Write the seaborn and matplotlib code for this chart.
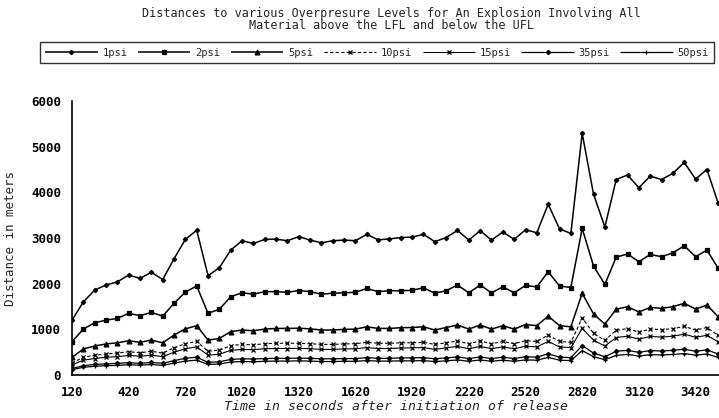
import seaborn as sns
import matplotlib
matplotlib.use('Agg')
import matplotlib.pyplot as plt

# time axis, one point every 60 s
times = list(range(120, 3541, 60))

psi_1 = [1200, 1600, 1860, 1970, 2040, 2190, 2115, 2250, 2090, 2545,
         2970, 3170, 2175, 2350, 2735, 2940, 2880, 2970, 2975, 2940,
         3030, 2955, 2895, 2940, 2955, 2940, 3080, 2960, 2980, 3010,
         3020, 3080, 2920, 3010, 3165, 2955, 3160, 2955, 3130, 2970,
         3180, 3115, 3740, 3200, 3100, 5290, 3960, 3240, 4280, 4380,
         4100, 4355, 4280, 4415, 4655, 4290, 4500, 3760]
psi_2 = [730, 1005, 1145, 1200, 1240, 1350, 1300, 1370, 1290, 1570,
         1815, 1950, 1350, 1440, 1715, 1800, 1770, 1825, 1825, 1810,
         1850, 1825, 1770, 1790, 1800, 1810, 1895, 1825, 1845, 1845,
         1855, 1910, 1790, 1845, 1970, 1800, 1970, 1800, 1930, 1800,
         1960, 1930, 2260, 1950, 1915, 3210, 2385, 1985, 2580, 2650,
         2480, 2640, 2590, 2675, 2830, 2590, 2735, 2335]
psi_5 = [385, 570, 635, 680, 705, 750, 715, 765, 705, 875,
         1010, 1080, 765, 800, 950, 985, 970, 1005, 1020, 1020,
         1025, 1010, 985, 985, 1000, 1005, 1055, 1020, 1020, 1035,
         1040, 1055, 985, 1040, 1095, 1005, 1095, 1005, 1080, 1005,
         1105, 1080, 1290, 1080, 1055, 1790, 1335, 1115, 1440, 1495,
         1380, 1480, 1460, 1495, 1570, 1445, 1530, 1275]
psi_10 = [260, 390, 430, 460, 480, 510, 485, 520, 480, 595,
          685, 735, 520, 545, 645, 670, 660, 685, 695, 695,
          695, 685, 670, 670, 680, 685, 715, 695, 695, 705,
          705, 715, 670, 705, 745, 685, 745, 685, 735, 685,
          750, 735, 875, 735, 715, 1250, 910, 760, 980, 1015,
          940, 1005, 995, 1015, 1065, 985, 1040, 865]
psi_15 = [220, 325, 360, 390, 400, 430, 410, 435, 400, 500,
          575, 615, 435, 455, 540, 560, 555, 575, 580, 580,
          585, 575, 560, 560, 570, 575, 600, 580, 580, 590,
          595, 600, 560, 595, 625, 575, 625, 575, 615, 575,
          630, 615, 735, 615, 600, 1020, 760, 635, 820, 850,
          785, 845, 830, 850, 895, 825, 870, 725]
psi_35 = [140, 205, 230, 245, 255, 270, 255, 275, 255, 315,
          365, 390, 275, 290, 340, 355, 350, 360, 365, 365,
          370, 365, 355, 355, 360, 360, 380, 365, 365, 375,
          375, 380, 355, 375, 395, 360, 395, 360, 390, 360,
          400, 390, 465, 390, 380, 645, 480, 400, 520, 540,
          495, 535, 525, 540, 565, 520, 550, 460]
psi_50 = [115, 170, 190, 205, 210, 225, 215, 230, 210, 260,
          305, 325, 230, 240, 285, 295, 290, 300, 305, 305,
          310, 305, 295, 295, 300, 300, 315, 305, 305, 310,
          310, 315, 295, 310, 330, 300, 330, 300, 325, 300,
          330, 325, 385, 325, 315, 535, 400, 335, 430, 450,
          415, 445, 440, 450, 470, 435, 460, 385]

labels = ['1psi', '2psi', '5psi', '10psi', '15psi', '35psi', '50psi']
series = [psi_1, psi_2, psi_5, psi_10, psi_15, psi_35, psi_50]
markers = ['D', 's', '^', 'x', 'x', 'D', '+']
msizes = [2.2, 3.5, 3.5, 3, 2.5, 2.2, 3.5]
lwidths = [1.1, 1.1, 1.1, 0.8, 0.8, 0.9, 0.9]
lstyles = [(0, ()), (0, ()), (0, ()), (0, (3, 2)), (0, ()), (0, ()), (0, ())]

sns.set_theme(style='white')
plt.rcParams['font.family'] = ['DejaVu Sans Mono']

fig = plt.figure(figsize=(7.19, 4.18), dpi=100)
ax = fig.add_axes([72 / 719, 1 - 375 / 418, 1 - 72 / 719, 274 / 418])

for lab, vals, m, ms, lw, ls in zip(labels, series, markers, msizes, lwidths, lstyles):
    sns.lineplot(x=times, y=vals, ax=ax, color='black', marker=m,
                 markersize=ms, markeredgewidth=0.9, markeredgecolor='black',
                 linewidth=lw, linestyle=ls, label=lab)

ax.set_xlim(120, 3544)
ax.set_ylim(0, 6000)
ax.set_xticks(list(range(120, 3421, 300)))
ax.set_yticks(list(range(0, 6001, 1000)))
ax.tick_params(axis='both', direction='in', length=3, width=1, color='black',
               labelsize=9, labelcolor='black', pad=8)
for t in ax.get_xticklabels() + ax.get_yticklabels():
    t.set_fontweight('bold')
sns.despine(ax=ax, top=True, right=True)
for s in ['left', 'bottom']:
    ax.spines[s].set_color('black')
    ax.spines[s].set_linewidth(1.2)

ax.set_xlabel('Time in seconds after initiation of release', fontsize=9.5,
              style='italic', labelpad=1)
ax.set_ylabel('Distance in meters', fontsize=9, labelpad=10)

handles, labs = ax.get_legend_handles_labels()
ax.get_legend().remove()
fig.legend(handles, labs, loc='center left', bbox_to_anchor=(35 / 719, 0.874), ncol=7,
           frameon=True, fancybox=False, edgecolor='black', fontsize=7.5,
           handlelength=5.0, columnspacing=1.0, handletextpad=0.5, borderpad=0.5)

fig.text(0.545, 0.968, 'Distances to various Overpresure Levels for An Explosion Involving All',
         ha='center', va='center', fontsize=8.5)
fig.text(0.545, 0.940, 'Material above the LFL and below the UFL',
         ha='center', va='center', fontsize=8.5)

fig.savefig('out.png', dpi=100)
